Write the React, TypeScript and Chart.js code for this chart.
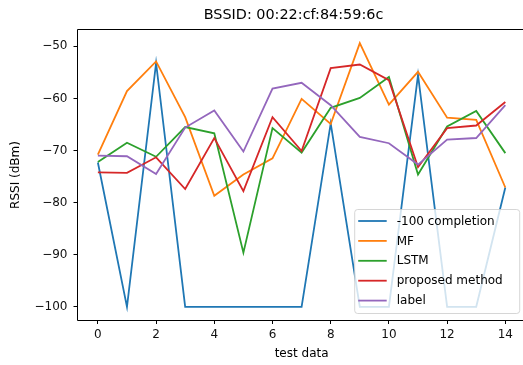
import React, { useEffect, useRef } from "react";
import { Chart, registerables } from "chart.js";

Chart.register(...registerables);

const titleText = "BSSID: 00:22:cf:84:59:6c";
const xLabel = "test data";
const yLabel = "RSSI (dBm)";

const testIndex = [0, 1, 2, 3, 4, 5, 6, 7, 8, 9, 10, 11, 12, 13, 14];
const xTicks = [0, 2, 4, 6, 8, 10, 12, 14];
const yTicks = [-100, -90, -80, -70, -60, -50];

const seriesNames = ["-100 completion", "MF", "LSTM", "proposed method", "label"];
const seriesColors = ["#1f77b4", "#ff7f0e", "#2ca02c", "#d62728", "#9467bd"];

const completion = [-72.3, -100, -53.2, -100, -100, -100, -100, -100, -64.8, -100, -100, -55.5, -100, -100, -77.1];
const mf = [-70.8, -58.6, -52.9, -63.6, -78.7, -74.6, -71.5, -60.1, -64.9, -49.4, -61.2, -54.9, -63.7, -64.1, -77.1];
const lstm = [-72.2, -68.5, -71.2, -65.5, -66.7, -89.6, -65.7, -70.4, -61.8, -59.9, -55.9, -74.6, -65.4, -62.4, -70.5];
const proposed = [-74.2, -74.3, -71.3, -77.4, -67.6, -77.8, -63.6, -70.1, -54.2, -53.5, -56.5, -73.2, -65.7, -65.2, -60.7];
const label = [-71.0, -71.1, -74.5, -65.6, -62.3, -70.2, -58.1, -57.0, -61.3, -67.4, -68.6, -72.7, -67.9, -67.6, -61.3];

const seriesValues = [completion, mf, lstm, proposed, label];

const FONT = "'DejaVu Sans', Verdana, sans-serif";

export default function App() {
  const canvasRef = useRef<HTMLCanvasElement | null>(null);

  useEffect(() => {
    const canvas = canvasRef.current;
    if (!canvas) return;

    const all = seriesValues.flat();
    const dMin = Math.min(...all);
    const dMax = Math.max(...all);
    const span = dMax - dMin;
    const yMin = dMin - span * 0.05;
    const yMax = dMax + span * 0.05;
    const xMin = testIndex[0] - (testIndex[testIndex.length - 1] - testIndex[0]) * 0.05;
    const xMax = testIndex[testIndex.length - 1] + (testIndex[testIndex.length - 1] - testIndex[0]) * 0.05;

    const framePlugin = {
      id: "frame",
      afterDatasetsDraw(chart: any) {
        const { ctx, chartArea } = chart;
        ctx.save();
        ctx.strokeStyle = "#000";
        ctx.lineWidth = 1;
        const l = Math.floor(chartArea.left) + 0.5;
        const t = Math.round(chartArea.top) - 0.5;
        const b = Math.round(chartArea.bottom) + 0.5;
        const r = Math.round(chartArea.right) + 0.5;
        ctx.beginPath();
        ctx.moveTo(l, b);
        ctx.lineTo(l, t);
        ctx.lineTo(r, t);
        ctx.lineTo(r, b);
        ctx.closePath();
        ctx.stroke();
        ctx.restore();
      },
    };

    const titlePlugin = {
      id: "axTitle",
      afterDraw(chart: any) {
        const { ctx, chartArea } = chart;
        ctx.save();
        ctx.font = `14.4px ${FONT}`;
        ctx.fillStyle = "#000";
        ctx.textAlign = "center";
        ctx.textBaseline = "middle";
        ctx.fillText(titleText, chartArea.left + 216, 15);
        ctx.restore();
      },
    };

    const legendPlugin = {
      id: "innerLegend",
      afterDraw(chart: any) {
        const { ctx, chartArea } = chart;
        const w = 165;
        const h = 104;
        const right = chartArea.right - 6;
        const bottom = chartArea.bottom - 6.5;
        const left = right - w;
        const top = bottom - h;
        ctx.save();
        const r = 3;
        ctx.beginPath();
        ctx.moveTo(left + r, top);
        ctx.lineTo(left + w - r, top);
        ctx.quadraticCurveTo(left + w, top, left + w, top + r);
        ctx.lineTo(left + w, top + h - r);
        ctx.quadraticCurveTo(left + w, top + h, left + w - r, top + h);
        ctx.lineTo(left + r, top + h);
        ctx.quadraticCurveTo(left, top + h, left, top + h - r);
        ctx.lineTo(left, top + r);
        ctx.quadraticCurveTo(left, top, left + r, top);
        ctx.closePath();
        ctx.fillStyle = "rgba(255,255,255,0.8)";
        ctx.fill();
        ctx.strokeStyle = "rgba(204,204,204,0.8)";
        ctx.lineWidth = 1;
        ctx.stroke();
        ctx.font = `12px ${FONT}`;
        ctx.textAlign = "left";
        ctx.textBaseline = "middle";
        seriesNames.forEach((name, i) => {
          const cy = top + 11.5 + i * 19.9;
          ctx.strokeStyle = seriesColors[i];
          ctx.lineWidth = 1.8;
          ctx.beginPath();
          ctx.moveTo(left + 3.5, cy);
          ctx.lineTo(left + 32, cy);
          ctx.stroke();
          ctx.fillStyle = "#000";
          ctx.fillText(name, left + 42, cy + 0.5);
        });
        ctx.restore();
      },
    };

    const chart = new Chart(canvas, {
      type: "line",
      data: {
        datasets: seriesNames.map((name, i) => ({
          label: name,
          data: testIndex.map((x, j) => ({ x, y: seriesValues[i][j] })),
          borderColor: seriesColors[i],
          backgroundColor: seriesColors[i],
          borderWidth: 1.8,
          pointRadius: 0,
          tension: 0,
          fill: false,
          order: seriesNames.length - 1 - i,
        })),
      },
      options: {
        responsive: false,
        animation: false,
        devicePixelRatio: 1,
        layout: { padding: { top: 30, right: 14.3, left: 0, bottom: 0 } },
        plugins: {
          legend: { display: false },
          title: { display: false },
          tooltip: { enabled: false },
        },
        scales: {
          x: {
            type: "linear",
            position: "bottom",
            min: xMin,
            max: xMax,
            afterBuildTicks: (scale: any) => {
              scale.ticks = xTicks.map((v) => ({ value: v }));
            },
            afterFit: (scale: any) => {
              scale.height = 45;
            },
            grid: {
              display: true,
              drawOnChartArea: false,
              drawTicks: true,
              tickLength: 4,
              tickColor: "#000",
              tickWidth: 1,
            },
            border: { display: false },
            ticks: {
              font: { family: FONT, size: 12 },
              color: "#111",
              padding: 3.5,
              maxRotation: 0,
              autoSkip: false,
              callback: (v: any) => String(v),
            },
            title: {
              display: true,
              text: xLabel,
              font: { family: FONT, size: 12 },
              color: "#000",
              padding: { top: 0, bottom: 3.8 },
            },
          },
          y: {
            type: "linear",
            min: yMin,
            max: yMax,
            afterBuildTicks: (scale: any) => {
              scale.ticks = yTicks.map((v) => ({ value: v }));
            },
            afterFit: (scale: any) => {
              scale.width = 77.5;
            },
            grid: {
              display: true,
              drawOnChartArea: false,
              drawTicks: true,
              tickLength: 4,
              tickColor: "#000",
              tickWidth: 1,
            },
            border: { display: false },
            ticks: {
              font: { family: FONT, size: 12 },
              color: "#111",
              padding: 6,
              autoSkip: false,
              callback: (v: any) => String(v).replace("-", "\u2212"),
            },
            title: {
              display: true,
              text: yLabel,
              font: { family: FONT, size: 12 },
              color: "#000",
              padding: { top: 8.8, bottom: 0 },
            },
          },
        },
      },
      plugins: [framePlugin, titlePlugin, legendPlugin],
    } as any);

    return () => {
      chart.destroy();
    };
  }, []);

  return (
    <div
      style={{
        position: "fixed",
        left: 0,
        top: 0,
        width: 523,
        height: 365,
        overflow: "hidden",
        background: "#fff",
      }}
    >
      <canvas ref={canvasRef} width={540} height={365} style={{ width: 540, height: 365, display: "block" }} />
    </div>
  );
}
